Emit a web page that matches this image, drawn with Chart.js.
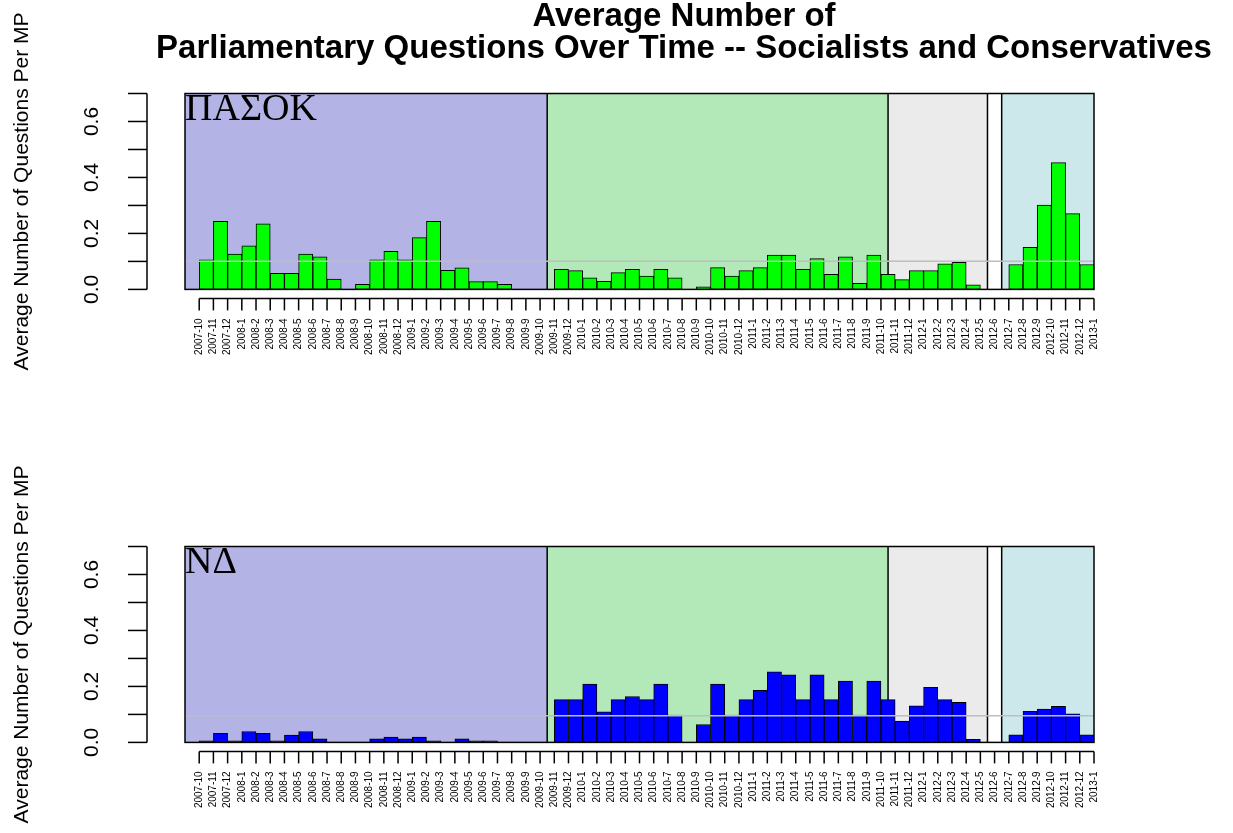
<!DOCTYPE html>
<html>
<head>
<meta charset="utf-8">
<script src="https://cdn.jsdelivr.net/npm/chart.js@4.4.1/dist/chart.umd.min.js"></script>
<style>
  body { margin: 0; background: #fff; width: 1233px; height: 833px; overflow: hidden; position: relative; }
  canvas { position: absolute; left: 0; }
  #pasokChart { top: 0; }
  #ndChart { top: 453px; }
</style>
</head>
<body>
<canvas id="pasokChart" width="1233" height="380"></canvas>
<canvas id="ndChart" width="1233" height="380"></canvas>
<script>
// tick labels under the bars (one per month)
const months = [
  '2007-10','2007-11','2007-12',
  '2008-1','2008-2','2008-3','2008-4','2008-5','2008-6','2008-7','2008-8','2008-9','2008-10','2008-11','2008-12',
  '2009-1','2009-2','2009-3','2009-4','2009-5','2009-6','2009-7','2009-8','2009-9','2009-10','2009-11','2009-12',
  '2010-1','2010-2','2010-3','2010-4','2010-5','2010-6','2010-7','2010-8','2010-9','2010-10','2010-11','2010-12',
  '2011-1','2011-2','2011-3','2011-4','2011-5','2011-6','2011-7','2011-8','2011-9','2011-10','2011-11','2011-12',
  '2012-1','2012-2','2012-3','2012-4','2012-5','2012-6','2012-7','2012-8','2012-9','2012-10','2012-11','2012-12',
  '2013-1'
];

// average questions per MP, Socialists
const pasokValues = [
  0, 0.106, 0.243, 0.126, 0.156, 0.234, 0.057, 0.057, 0.126, 0.116, 0.037, 0, 0.018, 0.106, 0.136, 0.106,
  0.185, 0.243, 0.068, 0.077, 0.028, 0.028, 0.018, 0, 0, 0, 0.072, 0.067, 0.041, 0.029, 0.060, 0.072,
  0.048, 0.072, 0.041, 0, 0.009, 0.078, 0.048, 0.067, 0.078, 0.123, 0.123, 0.072, 0.110, 0.054, 0.116, 0.022,
  0.123, 0.054, 0.035, 0.067, 0.067, 0.091, 0.097, 0.016, 0, 0, 0.089, 0.150, 0.301, 0.453, 0.271, 0.089
];

// average questions per MP, Conservatives
const ndValues = [
  0, 0.006, 0.032, 0.006, 0.039, 0.032, 0.006, 0.026, 0.039, 0.013, 0, 0, 0, 0.013, 0.019, 0.013,
  0.019, 0.006, 0, 0.013, 0.006, 0.006, 0, 0, 0, 0, 0.153, 0.153, 0.208, 0.109, 0.153, 0.164,
  0.153, 0.208, 0.098, 0, 0.064, 0.208, 0.098, 0.153, 0.186, 0.252, 0.241, 0.153, 0.241, 0.153, 0.219, 0.098,
  0.219, 0.153, 0.076, 0.131, 0.197, 0.153, 0.143, 0.011, 0, 0, 0.027, 0.111, 0.119, 0.129, 0.102, 0.027
];

// reference levels (gray line)
const pasokRef = 0.101;
const ndRef = 0.095;

// boundaries between the shaded government periods (in bar units)
const periodBreaks = [25.5, 49.5, 56.5, 57.5];

const yTickValues = [0, 0.1, 0.2, 0.3, 0.4, 0.5, 0.6, 0.7];
const yTickLabels = ['0.0', '', '0.2', '', '0.4', '', '0.6', ''];

const periodColors = ['#b3b3e6', '#b3e8b8', '#ebebeb', null, '#cce8ea'];

Chart.defaults.font.family = '"Liberation Sans", Arial, sans-serif';
Chart.defaults.color = '#000';

function line(ctx, x0, y0, x1, y1) {
  ctx.beginPath();
  ctx.moveTo(x0, y0);
  ctx.lineTo(x1, y1);
  ctx.stroke();
}

const panelPlugin = {
  id: 'panel',
  beforeDatasetsDraw(chart, args, opts) {
    const {ctx, chartArea: a, scales: {xl}} = chart;
    const edges = [0, ...periodBreaks, months.length];
    ctx.save();
    for (let i = 0; i < edges.length - 1; i++) {
      if (!periodColors[i]) continue;
      const x0 = xl.getPixelForValue(edges[i]);
      const x1 = xl.getPixelForValue(edges[i + 1]);
      ctx.fillStyle = periodColors[i];
      ctx.fillRect(x0, a.top, x1 - x0, a.bottom - a.top);
    }
    ctx.strokeStyle = '#000';
    ctx.lineWidth = 1.5;
    periodBreaks.forEach(b => {
      const x = xl.getPixelForValue(b);
      line(ctx, x, a.top, x, a.bottom);
    });
    ctx.restore();
  },
  afterDatasetsDraw(chart, args, opts) {
    const {ctx, chartArea: a, scales: {xl, y}} = chart;
    ctx.save();
    // gray reference line
    const yr = y.getPixelForValue(opts.ref);
    ctx.strokeStyle = '#bebebe';
    ctx.lineWidth = 1.5;
    line(ctx, a.left, yr, a.right, yr);

    // box
    ctx.strokeStyle = '#000';
    ctx.lineWidth = 1.5;
    ctx.strokeRect(a.left, a.top, a.right - a.left, a.bottom - a.top);

    // detached y axis
    const ax = a.left - 38;
    const yTop = y.getPixelForValue(yTickValues[yTickValues.length - 1]);
    const yBot = y.getPixelForValue(yTickValues[0]);
    line(ctx, ax, yTop, ax, yBot);
    yTickValues.forEach(v => {
      const py = y.getPixelForValue(v);
      line(ctx, ax - 19, py, ax, py);
    });

    // detached x axis
    const ay = a.bottom + 9;
    line(ctx, xl.getPixelForValue(1), ay, xl.getPixelForValue(months.length), ay);
    months.forEach((m, i) => {
      const px = xl.getPixelForValue(i + 1);
      line(ctx, px, ay, px, ay + 12);
    });

    // party name
    ctx.font = '38px "Liberation Serif", "DejaVu Serif", serif';
    ctx.fillStyle = '#000';
    ctx.textAlign = 'left';
    ctx.textBaseline = 'alphabetic';
    ctx.fillText(opts.party, a.left, a.top + 26);
    ctx.restore();
  }
};

const titlePlugin = {
  id: 'mainTitle',
  afterDraw(chart, args, opts) {
    if (!opts.lines) return;
    const ctx = chart.ctx;
    ctx.save();
    ctx.font = 'bold 33px "Liberation Sans", Arial, sans-serif';
    ctx.fillStyle = '#000';
    ctx.textAlign = 'center';
    ctx.textBaseline = 'alphabetic';
    ctx.fillText(opts.lines[0], 684, 26);
    ctx.fillText(opts.lines[1], 684, 58);
    ctx.restore();
  }
};

function makeChart(id, values, color, party, ref, titleLines) {
  return new Chart(document.getElementById(id), {
    type: 'bar',
    data: {
      labels: months,
      datasets: [{
        data: values,
        backgroundColor: color,
        borderColor: '#000',
        borderWidth: 1,
        borderSkipped: false,
        categoryPercentage: 1,
        barPercentage: 1,
        xAxisID: 'x',
        yAxisID: 'y'
      }]
    },
    options: {
      responsive: false,
      animation: false,
      events: [],
      layout: { padding: { top: 93.5, right: 139, left: 0, bottom: 0 } },
      plugins: {
        legend: { display: false },
        tooltip: { enabled: false },
        panel: { party: party, ref: ref },
        mainTitle: { lines: titleLines }
      },
      scales: {
        x: { display: false, offset: true },
        xl: {
          type: 'linear',
          position: 'bottom',
          offset: false,
          min: 0,
          max: months.length,
          afterBuildTicks: s => { s.ticks = months.map((m, i) => ({ value: i + 1 })); },
          afterFit: s => { s.height = 87.5; },
          grid: { display: false, drawTicks: false, offset: false },
          border: { display: false },
          ticks: {
            autoSkip: false,
            minRotation: 90,
            maxRotation: 90,
            padding: 29,
            font: { size: 10 },
            color: '#000',
            callback: (v, i) => months[i]
          }
        },
        y: {
          min: 0,
          max: 0.7,
          afterBuildTicks: s => { s.ticks = yTickValues.map(v => ({ value: v })); },
          afterFit: s => { s.width = 185; },
          grid: { display: false, drawTicks: false },
          border: { display: false },
          ticks: {
            minRotation: 90,
            crossAlign: 'center',
            padding: 78,
            font: { size: 21 },
            color: '#000',
            callback: (v, i) => yTickLabels[i]
          },
          title: {
            display: true,
            text: 'Average Number of Questions Per MP',
            font: { size: 21 },
            color: '#000',
            padding: { top: 9.5, bottom: 0 }
          }
        }
      }
    },
    plugins: [panelPlugin, titlePlugin]
  });
}

makeChart('pasokChart', pasokValues, '#00ff00', 'ΠΑΣΟΚ', pasokRef,
  ['Average Number of', 'Parliamentary Questions Over Time -- Socialists and Conservatives']);
makeChart('ndChart', ndValues, '#0000ff', 'ΝΔ', ndRef, null);
</script>
</body>
</html>
